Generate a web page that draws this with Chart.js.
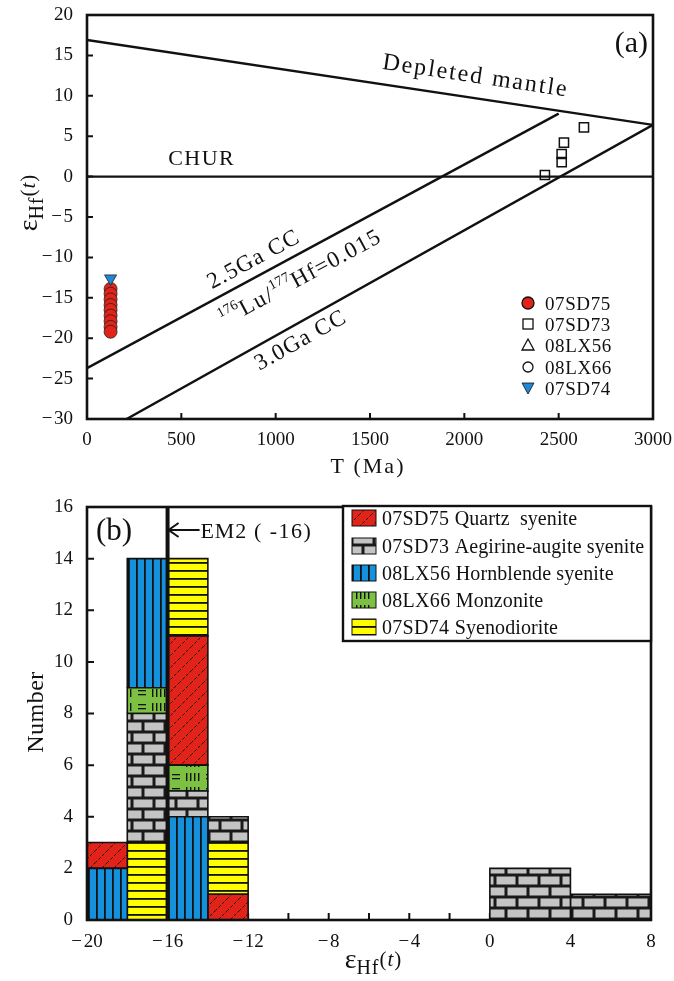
<!DOCTYPE html>
<html><head><meta charset="utf-8">
<script src="https://cdn.jsdelivr.net/npm/chart.js@4.4.1/dist/chart.umd.min.js"></script>
<style>
html,body{margin:0;padding:0;background:#fff;}
#wrapA{position:absolute;left:0;top:0;width:674px;height:480px;}
#wrapB{position:absolute;left:0;top:490px;width:674px;height:491px;}
</style></head><body>
<div id="wrapA"><canvas id="ca" width="674" height="480"></canvas></div>
<div id="wrapB"><canvas id="cb" width="674" height="491"></canvas></div>
<script>
// ---------------- Panel (a) data ----------------
const dmT = [0, 3000];          const dmE = [16.9, 6.4];     // Depleted mantle
const churT = [0, 3000];        const churE = [0, 0];        // CHUR
const cc25T = [0, 2500];        const cc25E = [-23.7, 7.8];  // 2.5Ga CC
const cc30T = [210, 3000];      const cc30E = [-30, 6.4];    // 3.0Ga CC
const sd75T = [125, 125, 125, 125, 125, 125, 125, 125, 125];
const sd75E = [-13.9, -14.5, -15.2, -15.9, -16.5, -17.2, -17.9, -18.6, -19.2];
const sd73T = [2427, 2516, 2516, 2528, 2634];
const sd73E = [0.2, 1.8, 2.8, 4.2, 6.1];
const lx56T = []; const lx56E = [];
const lx66T = []; const lx66E = [];
const sd74T = [125]; const sd74E = [-12.6];
const aLegend = ['07SD75', '07SD73', '08LX56', '08LX66', '07SD74'];

// ---------------- Panel (b) data ----------------
const binLo = [-20, -18, -16, -14, 0, 4];
const binHi = [-18, -16, -14, -12, 4, 8];
const samples = ['07SD75', '07SD73', '08LX56', '08LX66', '07SD74'];
const rocks = ['Quartz  syenite', 'Aegirine-augite syenite', 'Hornblende syenite', 'Monzonite', 'Syenodiorite'];
const cnt07SD75 = [1, 0, 5, 1, 0, 0];
const cnt07SD73 = [0, 5, 1, 1, 2, 1];
const cnt08LX56 = [2, 5, 4, 0, 0, 0];
const cnt08LX66 = [0, 1, 1, 0, 0, 0];
const cnt07SD74 = [0, 3, 3, 2, 0, 0];
const stackOrder = [
  ['08LX56', '07SD75'],
  ['07SD74', '07SD73', '08LX66', '08LX56'],
  ['08LX56', '07SD73', '08LX66', '07SD75', '07SD74'],
  ['07SD75', '07SD74', '07SD73'],
  ['07SD73'],
  ['07SD73']
];
const em2Value = -16;

// ---------------- helpers ----------------
const FONT = "'Liberation Serif', 'DejaVu Serif', serif";
Chart.defaults.font.family = FONT;
Chart.defaults.color = '#111';
const pts = (xs, ys) => xs.map((x, i) => ({x: x, y: ys[i]}));
const minus = v => String(v).replace('-', '\u2212\u200a');

function makePattern(kind) {
  const c = document.createElement('canvas'); const g = c.getContext('2d');
  if (kind === 'red') {
    c.width = 12; c.height = 12;
    g.fillStyle = '#e2231a'; g.fillRect(0, 0, 12, 12);
    g.strokeStyle = '#111'; g.lineWidth = 1; g.setLineDash([3, 2]);
    g.beginPath(); g.moveTo(-1, 13); g.lineTo(13, -1); g.stroke();
  } else if (kind === 'gray') {
    c.width = 22; c.height = 22;
    g.fillStyle = '#1a1a1a'; g.fillRect(0, 0, 22, 22);
    g.fillStyle = '#c4c4c4';
    g.fillRect(1.5, 1.5, 19, 8);
    g.fillRect(0, 12.5, 9.5, 8); g.fillRect(12.5, 12.5, 9.5, 8);
  } else if (kind === 'blue') {
    c.width = 8; c.height = 8;
    g.fillStyle = '#1590dc'; g.fillRect(0, 0, 8, 8);
    g.fillStyle = '#111'; g.fillRect(0, 0, 1.8, 8);
  } else if (kind === 'green') {
    c.width = 34; c.height = 14;
    g.fillStyle = '#7cc142'; g.fillRect(0, 0, 34, 14);
    g.fillStyle = '#111';
    g.fillRect(2, 4, 8, 1.3); g.fillRect(2, 8, 8, 1.3);
    for (let k = 0; k < 4; k++) g.fillRect(16 + k * 4, 3, 1.4, 8);
  } else {
    c.width = 8; c.height = 8;
    g.fillStyle = '#ffff00'; g.fillRect(0, 0, 8, 8);
    g.fillStyle = '#111'; g.fillRect(0, 0, 8, 1.8);
  }
  return g.createPattern(c, 'repeat');
}
const fills = {
  '07SD75': makePattern('red'), '07SD73': makePattern('gray'), '08LX56': makePattern('blue'),
  '08LX66': makePattern('green'), '07SD74': makePattern('yellow')
};
const counts = {'07SD75': cnt07SD75, '07SD73': cnt07SD73, '08LX56': cnt08LX56, '08LX66': cnt08LX66, '07SD74': cnt07SD74};

// rich text: parts {t, s (size), dy, it (italic), ls (letter spacing)}
function rich(ctx, parts, x, y, align) {
  let w = 0;
  parts.forEach(p => {
    ctx.font = (p.it ? 'italic ' : '') + p.s + 'px ' + FONT;
    const ls = p.ls || 0;
    p.cw = Array.from(p.t).map(ch => ctx.measureText(ch).width + ls);
    p.w = p.cw.reduce((a, b) => a + b, 0);
    w += p.w;
  });
  let cx = align === 'center' ? x - w / 2 : (align === 'right' ? x - w : x);
  ctx.textAlign = 'left'; ctx.textBaseline = 'alphabetic';
  parts.forEach(p => {
    ctx.font = (p.it ? 'italic ' : '') + p.s + 'px ' + FONT;
    Array.from(p.t).forEach((ch, k) => { ctx.fillText(ch, cx, y + (p.dy || 0)); cx += p.cw[k]; });
  });
}
const epsParts = () => [{t: '\u03b5', s: 28}, {t: 'Hf', s: 20, dy: 6, ls: 1}, {t: '(', s: 21, dy: -2, ls: 1}, {t: 't', s: 21, it: true, dy: -2, ls: 1}, {t: ')', s: 21, dy: -2}];

function inTicks(ctx, chart, len) {
  const a = chart.chartArea; const xs = chart.scales.x, ys = chart.scales.y;
  ctx.save(); ctx.strokeStyle = '#111'; ctx.lineWidth = 2;
  ctx.beginPath();
  xs.ticks.forEach(t => { if (t.value <= xs.min || t.value >= xs.max) return; const p = xs.getPixelForValue(t.value); ctx.moveTo(p, a.bottom); ctx.lineTo(p, a.bottom - len); });
  ys.ticks.forEach(t => { if (t.value <= ys.min || t.value >= ys.max) return; const p = ys.getPixelForValue(t.value); ctx.moveTo(a.left, p); ctx.lineTo(a.left + len, p); });
  ctx.stroke(); ctx.restore();
}
function frame(ctx, chart) {
  const a = chart.chartArea;
  ctx.save(); ctx.strokeStyle = '#111'; ctx.lineWidth = 2.6;
  ctx.strokeRect(a.left, a.top, a.right - a.left, a.bottom - a.top); ctx.restore();
}
const fitX = h => s => { s.height = h; s.paddingLeft = 0; s.paddingRight = 0; s.paddingTop = 0; s.paddingBottom = 0; };
const fitY = w => s => { s.width = w; s.paddingLeft = 0; s.paddingRight = 0; s.paddingTop = 0; s.paddingBottom = 0; };

// ---------------- Chart (a) ----------------
const lineDs = (xs, ys) => ({type: 'line', data: pts(xs, ys), borderColor: '#111', borderWidth: 2.4, pointRadius: 0, fill: false, tension: 0, order: 10});
const aPlugin = {
  id: 'aPlugin',
  beforeDatasetsDraw(chart) { inTicks(chart.ctx, chart, 6); },
  afterDatasetsDraw(chart) {
    const ctx = chart.ctx, xs = chart.scales.x, ys = chart.scales.y;
    frame(ctx, chart);
    ctx.save(); ctx.fillStyle = '#111';
    const ang = (T, E) => Math.atan2(ys.getPixelForValue(E[1]) - ys.getPixelForValue(E[0]), xs.getPixelForValue(T[1]) - xs.getPixelForValue(T[0]));
    const rot = (x, y, a, parts) => { ctx.save(); ctx.translate(xs.getPixelForValue(x), ys.getPixelForValue(y)); ctx.rotate(a); rich(ctx, parts, 0, 8, 'center'); ctx.restore(); };
    rot(2061, 12.6, ang(dmT, dmE), [{t: 'Depleted mantle', s: 24, ls: 2}]);
    rot(880, -10.1, ang(cc25T, cc25E), [{t: '2.5Ga CC', s: 23, ls: 1.2}]);
    rot(1129, -12.4, ang(cc25T, cc25E), [{t: '176', s: 14, dy: -10, ls: 0.4}, {t: 'Lu/', s: 23, ls: 1.5}, {t: '177', s: 14, dy: -10, ls: 0.4}, {t: 'Hf=0.015', s: 23, ls: 1.3}]);
    rot(1129, -20.1, ang(cc30T, cc30E), [{t: '3.0Ga CC', s: 23, ls: 1.2}]);
    rich(ctx, [{t: 'CHUR', s: 22, ls: 1.5}], xs.getPixelForValue(430), ys.getPixelForValue(2.3) + 7, 'left');
    rich(ctx, [{t: '(a)', s: 30}], chart.chartArea.right - 5, chart.chartArea.top + 37, 'right');
    // legend
    const lx = 528, tx = 545, ly = [303, 324, 345, 367, 388];
    ly.forEach((y, i) => { rich(ctx, [{t: aLegend[i], s: 19, ls: 0.6}], tx, y + 7, 'left'); });
    ctx.lineWidth = 1.3; ctx.strokeStyle = '#111';
    ctx.beginPath(); ctx.arc(lx, ly[0], 6, 0, 2 * Math.PI); ctx.fillStyle = '#e2231a'; ctx.fill(); ctx.stroke();
    ctx.strokeRect(lx - 5, ly[1] - 5, 10, 10);
    ctx.beginPath(); ctx.moveTo(lx, ly[2] - 6); ctx.lineTo(lx + 6, ly[2] + 5); ctx.lineTo(lx - 6, ly[2] + 5); ctx.closePath(); ctx.stroke();
    ctx.beginPath(); ctx.arc(lx, ly[3], 5, 0, 2 * Math.PI); ctx.stroke();
    ctx.beginPath(); ctx.moveTo(lx, ly[4] + 6); ctx.lineTo(lx + 6, ly[4] - 5); ctx.lineTo(lx - 6, ly[4] - 5); ctx.closePath(); ctx.fillStyle = '#1e88d2'; ctx.fill(); ctx.lineWidth = 0.8; ctx.stroke();
    ctx.restore();
  },
  afterDraw(chart) {
    const ctx = chart.ctx; ctx.save(); ctx.fillStyle = '#111';
    ctx.translate(29, 203); ctx.rotate(-Math.PI / 2); rich(ctx, epsParts(), 0, 8, 'center'); ctx.restore();
    ctx.save(); ctx.fillStyle = '#111'; rich(ctx, [{t: 'T (Ma)', s: 22, ls: 2}], 368, 473, 'center'); ctx.restore();
  }
};
new Chart(document.getElementById('ca'), {
  type: 'scatter',
  data: {datasets: [
    {label: '07SD74', data: pts(sd74T, sd74E), pointStyle: 'triangle', rotation: 180, pointRadius: 7, backgroundColor: '#1e88d2', borderColor: '#222', borderWidth: 0.8, order: 1},
    {label: '07SD75', data: pts(sd75T, sd75E), pointStyle: 'circle', pointRadius: 6.5, backgroundColor: '#e2231a', borderColor: '#222', borderWidth: 0.8, order: 2},
    {label: '08LX56', data: pts(lx56T, lx56E), pointStyle: 'triangle', pointRadius: 6, backgroundColor: 'transparent', borderColor: '#111', order: 3},
    {label: '08LX66', data: pts(lx66T, lx66E), pointStyle: 'circle', pointRadius: 5, backgroundColor: 'transparent', borderColor: '#111', order: 4},
    {label: '07SD73', data: pts(sd73T, sd73E), pointStyle: 'rect', pointRadius: 6.5, backgroundColor: 'transparent', borderColor: '#111', borderWidth: 1.5, order: 5},
    lineDs(dmT, dmE), lineDs(churT, churE), lineDs(cc25T, cc25E), lineDs(cc30T, cc30E)
  ]},
  options: {
    responsive: false, animation: false, events: [],
    layout: {padding: {top: 15, right: 21, left: 0, bottom: 0}},
    plugins: {legend: {display: false}, tooltip: {enabled: false}},
    scales: {
      x: {type: 'linear', min: 0, max: 3000, afterFit: fitX(61),
          grid: {display: false, drawTicks: false}, border: {display: false},
          ticks: {stepSize: 500, padding: 10, font: {size: 19}, callback: v => minus(v), maxRotation: 0}},
      y: {type: 'linear', min: -30, max: 20, afterFit: fitY(87),
          grid: {display: false, drawTicks: false}, border: {display: false},
          ticks: {stepSize: 5, padding: 14, font: {size: 19}, callback: v => minus(v)}}
    }
  },
  plugins: [aPlugin]
});

// ---------------- Chart (b) ----------------
const bDatasets = [{
  type: 'line', data: [{x: em2Value, y: 0}, {x: em2Value, y: 16}], borderColor: '#111', borderWidth: 4, pointRadius: 0, fill: false, order: 0
}];
stackOrder.forEach((order, i) => {
  let base = 0;
  order.forEach(name => {
    const n = counts[name][i]; if (!n) return;
    const x0 = binLo[i], x1 = binHi[i], y0 = base, y1 = base + n;
    bDatasets.push({
      type: 'line', label: name,
      data: [{x: x0, y: y0}, {x: x0, y: y1}, {x: x1, y: y1}, {x: x1, y: y0}, {x: x0, y: y0}],
      fill: 'shape', backgroundColor: fills[name], borderColor: '#111', borderWidth: 1.6,
      pointRadius: 0, tension: 0, order: 5
    });
    base = y1;
  });
});
const bPlugin = {
  id: 'bPlugin',
  beforeDatasetsDraw(chart) { inTicks(chart.ctx, chart, 7); },
  afterDatasetsDraw(chart) {
    const ctx = chart.ctx, xs = chart.scales.x, a = chart.chartArea;
    frame(ctx, chart);
    ctx.save(); ctx.fillStyle = '#111'; ctx.strokeStyle = '#111';
    rich(ctx, [{t: '(b)', s: 31}], a.left + 9, a.top + 33, 'left');
    // EM2 arrow
    const ex = xs.getPixelForValue(em2Value) + 1, ey = a.top + 23;
    ctx.lineWidth = 2; ctx.beginPath(); ctx.moveTo(ex, ey); ctx.lineTo(ex + 31, ey);
    ctx.moveTo(ex + 10, ey - 7); ctx.lineTo(ex, ey); ctx.lineTo(ex + 10, ey + 7); ctx.stroke();
    rich(ctx, [{t: 'EM2', s: 22, ls: 0.8}, {t: ' ( -16)', s: 22, ls: 1.5}], ex + 32, ey + 8, 'left');
    // legend box
    const bx = 343, by = a.top - 1, bw = a.right - 343, bh = 135;
    ctx.fillStyle = '#fff'; ctx.fillRect(bx, by, bw, bh);
    ctx.lineWidth = 2.4; ctx.strokeRect(bx, by, bw, bh);
    const rows = [12, 40, 67, 94, 121].map(d => by + d);
    rows.forEach((y, i) => {
      ctx.fillStyle = fills[samples[i]]; ctx.fillRect(352, y - 8, 24, 16);
      ctx.lineWidth = 1; ctx.strokeStyle = '#111'; ctx.strokeRect(352, y - 8, 24, 16);
      ctx.fillStyle = '#111';
      rich(ctx, [{t: samples[i] + ' ', s: 20, ls: 0.3}, {t: rocks[i], s: 20, ls: 0.1}], 382, y + 7, 'left');
    });
    ctx.restore();
  },
  afterDraw(chart) {
    const ctx = chart.ctx; ctx.save(); ctx.fillStyle = '#111';
    ctx.translate(35, 222); ctx.rotate(-Math.PI / 2); rich(ctx, [{t: 'Number', s: 24, ls: 0.5}], 0, 8, 'center'); ctx.restore();
    ctx.save(); ctx.fillStyle = '#111'; rich(ctx, epsParts(), 373, 478, 'center'); ctx.restore();
  }
};
new Chart(document.getElementById('cb'), {
  type: 'line',
  data: {datasets: bDatasets},
  options: {
    responsive: false, animation: false, events: [],
    layout: {padding: {top: 17, right: 23, left: 0, bottom: 0}},
    plugins: {legend: {display: false}, tooltip: {enabled: false}},
    scales: {
      x: {type: 'linear', min: -20, max: 8, afterFit: fitX(61),
          grid: {display: false, drawTicks: false}, border: {display: false},
          ticks: {stepSize: 2, padding: 11, font: {size: 19}, autoSkip: false, maxRotation: 0, callback: v => (v % 4 === 0 ? minus(v) : '')}},
      y: {type: 'linear', min: 0, max: 16, afterFit: fitY(87),
          grid: {display: false, drawTicks: false}, border: {display: false},
          ticks: {stepSize: 2, padding: 14, font: {size: 19}, callback: v => minus(v)}}
    }
  },
  plugins: [bPlugin]
});
</script>
</body></html>
